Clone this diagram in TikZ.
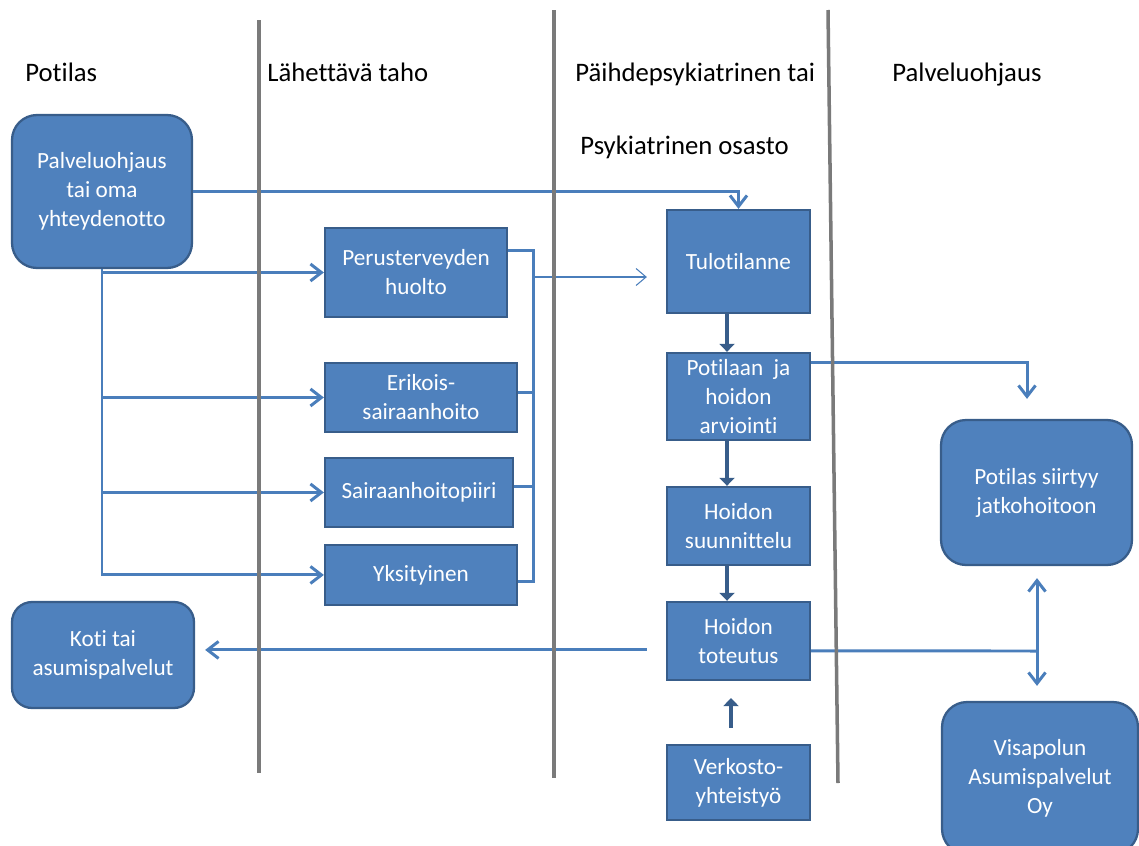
\documentclass[tikz,border=0pt]{standalone}
\usepackage{fontspec}
\setmainfont{Carlito}[Ligatures=NoCommon]
\usetikzlibrary{arrows.meta, calc, positioning}
\definecolor{boxblue}{HTML}{4F81BD}
\definecolor{boxedge}{HTML}{385D8A}
\definecolor{linkblue}{HTML}{4A7EBB}
\definecolor{sepgray}{HTML}{7A7A7A}
\tikzstyle{box} = [rectangle, fill=boxblue, draw=boxedge, line width=1.3pt, text=white, align=center, inner sep=0pt, font=\fontsize{13.2}{16.5}\selectfont]
\tikzstyle{roundbox} = [box, rounded corners=0.5cm]
\tikzstyle{link} = [draw=linkblue, line width=1.7pt]
\tikzstyle{conn} = [link, -{Straight Barb[length=2.2mm,width=3.4mm]}]
\tikzstyle{biconn} = [link, {Straight Barb[length=2.2mm,width=3.4mm]}-{Straight Barb[length=2.2mm,width=3.4mm]}]
\tikzstyle{thinarrow} = [draw=linkblue, line width=0.6pt, -{Straight Barb[length=2mm,width=3.4mm]}]
\tikzstyle{flow} = [draw=boxedge, line width=2.8pt, -{Triangle[length=1.6mm,width=3mm]}]
\tikzstyle{sep} = [draw=sepgray, line width=2pt]
\tikzstyle{head} = [anchor=base west, inner sep=0pt, font=\fontsize{15.2}{18}\selectfont]

\begin{document}
\begin{tikzpicture}[x=0.02cm, y=-0.02cm, node distance=2.5cm]
\useasboundingbox (0,0) rectangle (1139,845);

% column headings
\node (hpot) [head] at (25,81) {Potilas};
\node (hlah) [head] at (267,81) {Lähettävä taho};
\node (hpai) [head] at (575,81) {Päihdepsykiatrinen tai};
\node (hpsy) [head] at (580,154) {Psykiatrinen osasto};
\node (hpal) [head] at (892,81) {Palveluohjaus};

% patient side
\node (pal) [roundbox, minimum width=3.6cm, minimum height=3.06cm] at (102,191.5) {Palveluohjaus\\tai oma\\yhteydenotto};
\node (koti) [roundbox, minimum width=3.64cm, minimum height=2.12cm, rounded corners=0.4cm] at (103,655) {Koti tai\\asumispalvelut};

% referring parties
\node (peru) [box, minimum width=3.64cm, minimum height=1.78cm] at (416,272.5) {Perusterveyden\\huolto};
\node (erik) [box, minimum width=3.84cm, minimum height=1.38cm, below of=peru, xshift=0.1cm] {Erikois-\\sairaanhoito};
\node (sair) [box, minimum width=3.76cm, minimum height=1.38cm, below of=erik, yshift=0.6cm, xshift=-0.04cm] {Sairaanhoitopiiri};
\node (yks) [box, minimum width=3.84cm, minimum height=1.2cm, below of=sair, yshift=0.85cm, xshift=0.04cm] {Yksityinen};

% ward
\node (tulo) [box, minimum width=2.86cm, minimum height=2.06cm] at (738.5,261.5) {Tulotilanne};
\node (poti) [box, minimum width=2.86cm, minimum height=1.74cm, below of=tulo, yshift=-0.2cm] {Potilaan~ ja\\hoidon\\arviointi};
\node (suun) [box, minimum width=2.86cm, minimum height=1.56cm, below of=poti, yshift=-0.09cm] {Hoidon\\suunnittelu};
\node (tote) [box, minimum width=2.86cm, minimum height=1.56cm, below of=suun, yshift=0.2cm] {Hoidon\\toteutus};
\node (verk) [box, minimum width=2.86cm, minimum height=1.5cm, below of=tote, yshift=-0.33cm] {Verkosto-\\yhteistyö};

% service guidance
\node (siir) [roundbox, minimum width=3.82cm, minimum height=2.9cm] at (1036.5,492.5) {Potilas siirtyy\\jatkohoitoon};
\node (visa) [roundbox, minimum width=3.92cm, minimum height=3.04cm] at (1040,778) {Visapolun\\Asumispalvelut\\Oy};

\coordinate (brk) at (533,277);
\coordinate (jun) at (1037,651);

% connectors
\draw[conn] (pal.east) -| (tulo.north);
\draw[conn] (pal.south) |- (peru.west);
\draw[conn] (pal.south) |- (erik.west);
\draw[conn] (pal.south) |- (sair.west);
\draw[conn] (pal.south) |- (yks.west);

\draw[link] ([yshift=0.45cm]peru.east) -| ([yshift=-0.14cm]yks.east -| brk) -- ([yshift=-0.14cm]yks.east);
\draw[link] ([yshift=0.09cm]erik.east) -| (brk);
\draw[link] ([yshift=0.11cm]sair.east) -| (brk);
\draw[thinarrow] (brk) -- ($(brk -| tulo.west)+(-19,0)$);

\draw[flow] ([xshift=-0.23cm]tulo.south) -- ([xshift=-0.23cm]poti.north);
\draw[flow] ([xshift=-0.23cm]poti.south) -- ([xshift=-0.23cm]suun.north);
\draw[flow] ([xshift=-0.23cm]suun.south) -- ([xshift=-0.23cm]tote.north);
\draw[flow, shorten <=0.32cm, shorten >=0.34cm] ([xshift=-0.15cm]verk.north) -- ([xshift=-0.15cm]tote.south);

\draw[conn] ([yshift=0.67cm]poti.east) -| ([xshift=-0.19cm, yshift=0.4cm]siir.north);
\draw[conn] ($(tote.west)+(-19,9)$) -- ($(koti.east |- tote.west)+(10,9)$);
\draw[link] ($(tote.east)+(0,10)$) -- (jun);
\draw[biconn] ($(jun |- siir.south)+(0,12)$) -- ($(jun |- visa.north)+(0,-15)$);

% lane separators
\draw[sep] (259,20) -- (259,773);
\draw[sep] (554,10) -- (554,778);
\draw[sep] (828,10) -- (838,783);

\end{tikzpicture}
\end{document}
